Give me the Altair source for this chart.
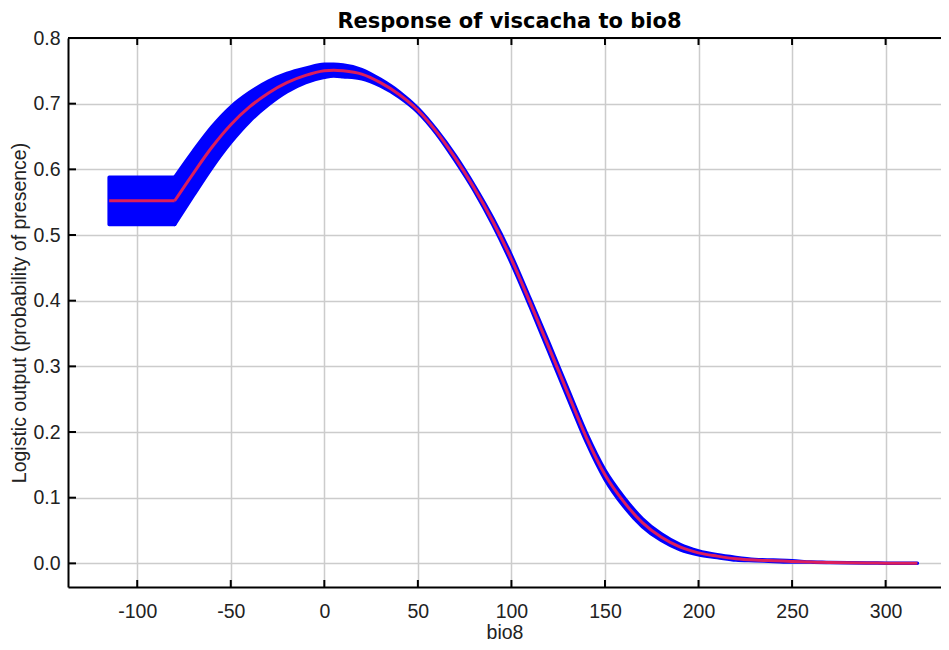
import altair as alt
import pandas as pd

# ---- data ----
bio8 = [-115, -80, -70, -60, -50, -40, -30, -20, -10, 0, 5, 10, 20, 30, 40, 50,
        60, 70, 80, 90, 100, 110, 120, 130, 140, 150, 160, 170, 180, 190, 200,
        210, 220, 230, 240, 250, 260, 270, 280, 290, 300, 317]
mean = [0.552, 0.552, 0.594, 0.634, 0.668, 0.695, 0.716, 0.732, 0.743, 0.750, 0.751, 0.750,
        0.745, 0.732, 0.714, 0.690, 0.657, 0.617, 0.572, 0.521, 0.463, 0.397, 0.329,
        0.260, 0.192, 0.135, 0.094, 0.062, 0.040, 0.025, 0.016, 0.011, 0.007, 0.005,
        0.004, 0.003, 0.002, 0.0012, 0.0008, 0.0005, 0.0003, 0.0002]
sd = [0.036, 0.036, 0.034, 0.031, 0.027, 0.022, 0.018, 0.014, 0.011, 0.010, 0.009, 0.009,
      0.007, 0.005, 0.004, 0.003, 0.003, 0.004, 0.004, 0.005, 0.006, 0.006, 0.007,
      0.007, 0.007, 0.007, 0.007, 0.006, 0.005, 0.004, 0.003, 0.002, 0.002, 0.001,
      0.001, 0.001, 0.0, 0.0, 0.0, 0.0, 0.0, 0.0]
x_ticks = [-100, -50, 0, 50, 100, 150, 200, 250, 300]
y_ticks = [0.0, 0.1, 0.2, 0.3, 0.4, 0.5, 0.6, 0.7, 0.8]

W, H = 873, 549

rows = []
for i, (x, m, s) in enumerate(zip(bio8, mean, sd)):
    if i <= 1:
        rows.append({"bio8": x, "mean": m, "lo": m - s, "hi": m + s, "seg": "a"})
    if i >= 1:
        rows.append({"bio8": x, "mean": m, "lo": m - s, "hi": m + s, "seg": "b"})
df = pd.DataFrame(rows)

xscale = alt.Scale(domain=[-137, 329.6], nice=False, zero=False)
yscale = alt.Scale(domain=[-0.036, 0.8], nice=False, zero=False)

xaxis = alt.Axis(values=x_ticks, title="bio8", labelExpr="'' + datum.value",
                 labelPadding=15, titlePadding=3)
yaxis = alt.Axis(values=y_ticks, labelExpr="format(datum.value, '.1f')",
                 title="Logistic output (probability of presence)",
                 labelPadding=8, titlePadding=3)

base = alt.Chart(df)

band = base.mark_area(
    color="#0000ff", stroke="#0000ff", strokeWidth=3.5, strokeJoin="round",
    interpolate="monotone"
).encode(
    x=alt.X("bio8:Q", scale=xscale, axis=xaxis),
    y=alt.Y("lo:Q", scale=yscale, axis=yaxis),
    y2="hi:Q",
    detail="seg:N",
)

line = base.mark_line(color="#dc1e5c", strokeWidth=3, interpolate="monotone").encode(
    x=alt.X("bio8:Q", scale=xscale, axis=xaxis),
    y=alt.Y("mean:Q", scale=yscale, axis=yaxis),
    detail="seg:N",
)

xt = alt.Chart(pd.DataFrame({"t": x_ticks}))
yt = alt.Chart(pd.DataFrame({"t": y_ticks}))

xticks_bottom = xt.mark_rule(color="black", strokeWidth=2).encode(
    x=alt.X("t:Q", scale=xscale, axis=xaxis), y=alt.value(H), y2=alt.value(H - 7))
xticks_top = xt.mark_rule(color="black", strokeWidth=2).encode(
    x=alt.X("t:Q", scale=xscale, axis=xaxis), y=alt.value(0), y2=alt.value(7))
yticks_left = yt.mark_rule(color="black", strokeWidth=2).encode(
    y=alt.Y("t:Q", scale=yscale, axis=yaxis), x=alt.value(0), x2=alt.value(8))
top_border = alt.Chart(pd.DataFrame({"a": [0]})).mark_rule(color="black", strokeWidth=2).encode(
    y=alt.value(0), x=alt.value(0), x2=alt.value(W))

chart = alt.layer(band, line, xticks_bottom, xticks_top, yticks_left, top_border).properties(
    width=W, height=H,
    autosize=alt.AutoSizeParams(type="none"),
    padding={"left": 60, "top": 30, "right": 0, "bottom": 55},
    title=alt.Title("Response of viscacha to bio8", font="DejaVu Sans", fontWeight="bold",
                    fontSize=21, color="black", offset=0, dx=5, dy=4),
).configure_view(stroke=None).configure_axis(
    domainColor="black", domainWidth=2, tickSize=0, ticks=False,
    grid=True, gridColor="#cccccc", gridWidth=1.5,
    labelFont="Liberation Sans", labelFontSize=19.5, labelColor="#222222",
    titleFont="Liberation Sans", titleFontSize=19.5, titleFontWeight="normal", titleColor="#222222",
)

chart.save("out.html", embed_options={"renderer": "svg", "actions": False})
